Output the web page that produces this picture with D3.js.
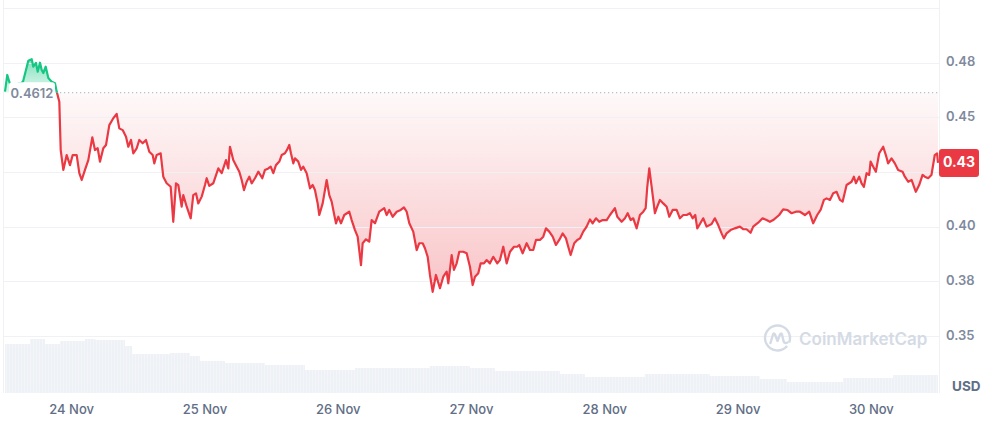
<!DOCTYPE html>
<html><head><meta charset="utf-8">
<script src="https://cdn.jsdelivr.net/npm/d3@7"></script>
<style>
html,body{margin:0;padding:0;background:#fff;}
svg{display:block;font-family:Inter,"Noto Sans",sans-serif;}
</style></head>
<body>
<svg id="chart" width="991" height="430"></svg>
<script>
// ---- data ----
const startUTC = Date.UTC(2023, 10, 23, 12);
const baselinePrice = 0.4612;
const lastPriceLabel = "0.43";
const hours = [0,0.41,0.77,1.26,2.16,2.88,3.24,4.2,4.81,5.1,5.58,5.89,6.3,6.61,6.9,7.33,7.8,8.41,9.0,9.31,
9.78,10.03,10.5,11.11,11.7,12.19,12.91,13.38,13.81,14.4,15.0,15.72,16.2,16.69,17.1,17.7,18.19,18.78,19.5,20.11,
20.58,21.19,21.79,22.2,22.69,23.1,23.71,24.18,24.79,25.39,25.98,26.59,26.88,27.31,28.03,28.5,29.11,29.83,30.3,30.79,
31.2,31.81,32.1,32.72,33.44,33.9,34.39,34.8,35.42,36.01,36.32,36.78,37.5,38.41,39.02,39.79,40.21,40.51,41.1,41.72,
42.19,42.62,43.03,43.52,43.99,44.42,45.01,45.61,46.33,46.81,47.41,47.84,48.31,48.79,49.39,49.82,50.41,50.83,51.19,51.49,
51.91,52.21,52.81,53.3,53.71,54.32,54.92,55.4,55.81,56.3,56.59,57.2,57.92,58.39,58.82,59.29,59.6,60.01,60.5,61.09,
61.99,62.42,63.02,63.5,64.1,64.4,65.0,65.59,66.02,66.62,67.39,68.29,68.73,69.19,69.81,70.53,71.25,71.84,72.33,72.8,
73.51,74.13,74.6,75.21,75.62,76.11,76.52,77.01,77.6,78.32,78.92,79.53,79.82,80.43,80.84,81.33,81.8,82.52,83.13,83.72,
84.21,84.63,85.22,85.65,86.24,86.73,87.32,87.92,88.64,89.12,89.72,90.33,90.93,91.65,92.24,92.6,93.21,93.93,94.53,95.12,
95.61,96.33,96.92,97.41,98.0,98.62,99.21,99.8,100.41,101.01,101.42,101.85,102.5,103.04,103.53,104.12,104.73,105.33,105.81,106.41,
107.0,107.62,108.34,108.93,109.83,110.25,111.04,111.63,112.12,112.66,113.13,113.74,114.33,114.93,115.36,115.65,116.01,116.44,117.03,117.34,
117.93,118.53,119.14,119.61,120.22,120.94,121.53,122.13,122.74,123.33,123.82,124.29,124.65,125.13,125.72,126.33,127.23,127.82,128.42,129.03,
129.44,129.93,130.65,131.42,132.32,132.92,133.53,134.25,134.72,135.62,136.41,137.13,137.73,138.32,139.4,140.12,140.85,141.64,142.41,143.14,
144.04,144.81,145.53,146.25,146.86,147.46,147.94,148.54,149.13,149.74,150.34,150.82,151.54,152.44,152.86,153.22,153.81,154.24,154.66,155.14,
155.61,155.86,156.33,156.81,157.41,158.13,158.61,159.02,159.63,160.23,160.82,161.62,162.03,162.63,163.24,164.01,164.61,165.22,165.63,166.23,
166.82,167.42,167.83,168];
const prices = [0.4617,0.4693,0.4662,0.4633,0.4652,0.4656,0.4662,0.4758,0.4765,0.4731,0.4748,0.4708,0.4749,0.4716,0.4702,0.4731,0.4679,0.4662,0.4655,0.4617,
0.4571,0.4350,0.4259,0.4327,0.4281,0.4327,0.4327,0.4244,0.4213,0.4259,0.4304,0.4408,0.4350,0.4358,0.4297,0.4358,0.4373,0.4464,0.4495,0.4515,
0.4449,0.4441,0.4411,0.4365,0.4396,0.4335,0.4358,0.4396,0.4381,0.4396,0.4342,0.4327,0.4289,0.4327,0.4335,0.4228,0.4198,0.4182,0.4022,0.4198,
0.4190,0.4091,0.4144,0.4091,0.4038,0.4144,0.4152,0.4106,0.4137,0.4190,0.4221,0.4186,0.4198,0.4266,0.4244,0.4304,0.4266,0.4365,0.4304,0.4274,
0.4251,0.4213,0.4167,0.4205,0.4228,0.4198,0.4221,0.4251,0.4221,0.4259,0.4266,0.4274,0.4244,0.4281,0.4297,0.4327,0.4335,0.4353,0.4373,0.4335,
0.4289,0.4312,0.4297,0.4259,0.4274,0.4244,0.4175,0.4190,0.4167,0.4106,0.4053,0.4106,0.4213,0.4144,0.4114,0.4053,0.4015,0.4045,0.4015,0.4053,
0.4068,0.4030,0.3984,0.3954,0.3824,0.3924,0.3942,0.3931,0.4030,0.4015,0.4068,0.4084,0.4053,0.4076,0.4045,0.4068,0.4076,0.4088,0.4068,0.4015,
0.3977,0.3893,0.3924,0.3924,0.3901,0.3862,0.3779,0.3702,0.3779,0.3718,0.3771,0.3794,0.3741,0.3870,0.3802,0.3832,0.3885,0.3885,0.3878,0.3817,
0.3733,0.3771,0.3787,0.3832,0.3832,0.3847,0.3832,0.3862,0.3832,0.3847,0.3908,0.3832,0.3885,0.3908,0.3908,0.3916,0.3878,0.3924,0.3893,0.3893,
0.3939,0.3939,0.3954,0.3992,0.3977,0.3954,0.3916,0.3939,0.3969,0.3946,0.3908,0.3870,0.3924,0.3939,0.3946,0.3977,0.4000,0.4033,0.4015,0.4038,
0.4022,0.4030,0.4030,0.4053,0.4084,0.4045,0.4022,0.4038,0.4061,0.4030,0.4038,0.3992,0.4053,0.4068,0.4084,0.4182,0.4266,0.4182,0.4061,0.4084,
0.4122,0.4106,0.4091,0.4045,0.4076,0.4076,0.4038,0.4053,0.4053,0.4061,0.4038,0.4053,0.3992,0.4012,0.4038,0.4000,0.4012,0.4038,0.4007,0.3969,
0.3946,0.3969,0.3984,0.3992,0.4000,0.3988,0.3988,0.3972,0.4000,0.4018,0.4038,0.4030,0.4022,0.4030,0.4053,0.4079,0.4076,0.4061,0.4068,0.4068,
0.4053,0.4068,0.4015,0.4053,0.4076,0.4122,0.4129,0.4122,0.4152,0.4159,0.4122,0.4114,0.4190,0.4205,0.4228,0.4198,0.4228,0.4198,0.4182,0.4244,
0.4236,0.4297,0.4274,0.4251,0.4335,0.4365,0.4327,0.4289,0.4312,0.4289,0.4259,0.4251,0.4228,0.4205,0.4213,0.4159,0.4190,0.4236,0.4228,0.4221,
0.4236,0.4327,0.4335,0.4291];
const volHours = [0,4.5,7.2,9.9,14.4,16.2,21.6,22.9,29.7,33.3,35.1,39.6,46.8,54.0,63.0,76.5,83.7,88.2,99.9,104.4,115.2,126.9,135.9,140.8,150.9,159.9,168];
const volumes  = [49,54,49,52,54,53,47,39,40,37,32,30,28,23,25,27,25,22,19,16,19,17,14,11,15,18,18];
const yTicks = [0.35, 0.375, 0.40, 0.425, 0.45, 0.475];
const yTickLabels = ["0.35","0.38","0.40","0.43","0.45","0.48"];
const gridValues = [0.35, 0.375, 0.40, 0.425, 0.45, 0.475, 0.50];
const xTickDays = [24,25,26,27,28,29,30];

// ---- setup ----
const svg = d3.select("#chart");
const toDate = h => new Date(startUTC + h * 3600e3);
const data = hours.map((h,i)=>({t:toDate(h), v:prices[i]}));
const vdata = volHours.map((h,i)=>({t:toDate(h), v:volumes[i]}));

const x = d3.scaleUtc().domain([toDate(0), toDate(168)]).range([5, 938]);
const y = d3.scaleLinear().domain([0.35, 0.50]).range([336, 7.8]);
const yv = d3.scaleLinear().domain([0, 100]).range([393, 293]);
const by = y(baselinePrice);
const last = data[data.length-1];
const ly = y(last.v);

const defs = svg.append("defs");
const rg = defs.append("linearGradient").attr("id","redg").attr("gradientUnits","userSpaceOnUse")
  .attr("x1",0).attr("x2",0).attr("y1",by).attr("y2",295);
rg.append("stop").attr("offset",0).attr("stop-color","#ea3943").attr("stop-opacity",0.03);
rg.append("stop").attr("offset",1).attr("stop-color","#ea3943").attr("stop-opacity",0.30);
const gg = defs.append("linearGradient").attr("id","greeng").attr("gradientUnits","userSpaceOnUse")
  .attr("x1",0).attr("x2",0).attr("y1",58).attr("y2",by);
gg.append("stop").attr("offset",0).attr("stop-color","#16c784").attr("stop-opacity",0.55);
gg.append("stop").attr("offset",1).attr("stop-color","#16c784").attr("stop-opacity",0.12);
defs.append("clipPath").attr("id","below").append("rect").attr("x",0).attr("y",by).attr("width",991).attr("height",430);
defs.append("clipPath").attr("id","above").append("rect").attr("x",0).attr("y",0).attr("width",991).attr("height",by);
const pat = defs.append("pattern").attr("id","vstripe").attr("patternUnits","userSpaceOnUse").attr("width",3).attr("height",10);
pat.append("rect").attr("width",3).attr("height",10).attr("fill","#eef1f5");
pat.append("rect").attr("width",0.8).attr("height",10).attr("fill","#f5f7fa");

// volume
svg.append("path").datum(vdata)
  .attr("d", d3.area().curve(d3.curveStepAfter).x(d=>x(d.t)).y0(yv(0)).y1(d=>yv(d.v)))
  .attr("fill","url(#vstripe)");

// fills
const fillArea = d3.area().x(d=>x(d.t)).y0(by).y1(d=>y(d.v));
svg.append("path").datum(data).attr("d",fillArea).attr("fill","url(#redg)").attr("clip-path","url(#below)");
svg.append("path").datum(data).attr("d",fillArea).attr("fill","url(#greeng)").attr("clip-path","url(#above)");

// grid
svg.append("g").selectAll("line").data(gridValues).join("line")
  .attr("x1",3).attr("x2",939).attr("y1",d=>Math.round(y(d))+0.5).attr("y2",d=>Math.round(y(d))+0.5)
  .attr("stroke","#eff1f4").attr("stroke-width",1);
svg.append("line").attr("x1",3.5).attr("x2",3.5).attr("y1",0).attr("y2",393).attr("stroke","#eff1f4");
svg.append("line").attr("x1",939.5).attr("x2",939.5).attr("y1",0).attr("y2",393).attr("stroke","#eff1f4");

// baseline dotted
svg.append("line").attr("x1",56).attr("x2",939).attr("y1",by).attr("y2",by)
  .attr("stroke","#a6b0c3").attr("stroke-width",1).attr("stroke-dasharray","1.2,2.8");

// watermark
const wm = svg.append("g").attr("transform","translate(777.5,338)");
wm.append("path").attr("d", d3.arc()({innerRadius:11.3, outerRadius:13.7, startAngle:Math.PI*0.72, endAngle:Math.PI*2.62}))
  .attr("fill","#d5dbe5");
wm.append("path").attr("d","M-7,5 L-4.5,-3.5 Q-3.8,-5.5 -2.5,-3.5 L0,3 L2.5,-3.5 Q3.8,-5.5 4.5,-3.5 L6,3 Q7,6 10,4.5")
  .attr("fill","none").attr("stroke","#d5dbe5").attr("stroke-width",2.4).attr("stroke-linecap","round").attr("stroke-linejoin","round");
svg.append("text").attr("x",799).attr("y",344.5).text("CoinMarketCap")
  .attr("font-size",17).attr("font-weight",600).attr("fill","#d5dbe5");

// lines
const line = d3.line().x(d=>x(d.t)).y(d=>y(d.v));
svg.append("path").datum(data).attr("d",line).attr("fill","none").attr("stroke","#ea3943")
  .attr("stroke-width",2.2).attr("stroke-linejoin","round").attr("clip-path","url(#below)");
svg.append("path").datum(data).attr("d",line).attr("fill","none").attr("stroke","#16c784")
  .attr("stroke-width",2.2).attr("stroke-linejoin","round").attr("clip-path","url(#above)");

// baseline label
svg.append("rect").attr("x",9).attr("y",by-10.5).attr("width",46).attr("height",21).attr("rx",3).attr("fill","#fff");
svg.append("text").attr("x",32).attr("y",by+1.8).attr("text-anchor","middle").attr("dominant-baseline","middle")
  .attr("font-size",13).attr("font-weight",600).attr("fill","#808a9d").text(baselinePrice.toString());

// y axis labels (the one hidden behind the current-price tag is not drawn, as in the reference)
const visTicks = yTicks.map((d,i)=>({v:d, label:yTickLabels[i]})).filter(d=>Math.abs(y(d.v)-ly) > 16);
svg.append("g").selectAll("text").data(visTicks).join("text")
  .attr("x",946).attr("y",d=>y(d.v)).attr("dominant-baseline","middle")
  .attr("font-size",13).attr("font-weight",600).attr("fill","#808a9d")
  .text(d=>d.label);
svg.append("text").attr("x",952).attr("y",387.5).attr("dominant-baseline","middle")
  .attr("font-size",13.5).attr("font-weight",700).attr("fill","#616e85").text("USD");

// x axis labels
const xt = xTickDays.map(d=>new Date(Date.UTC(2023,10,d)));
svg.append("g").selectAll("text").data(xt).join("text")
  .attr("x",d=>x(d)).attr("y",410.5).attr("text-anchor","middle").attr("dominant-baseline","middle")
  .attr("font-size",13).attr("font-weight",500).attr("fill","#616e85")
  .text(d=>d3.utcFormat("%-d %b")(d));

// last price label
svg.append("rect").attr("x",939).attr("y",ly-14).attr("width",40).attr("height",28).attr("rx",3).attr("fill","#ea3943");
svg.append("text").attr("x",959).attr("y",ly+0.5).attr("text-anchor","middle").attr("dominant-baseline","middle")
  .attr("font-size",14).attr("font-weight",700).attr("fill","#fff").text(lastPriceLabel);
</script>
</body></html>
